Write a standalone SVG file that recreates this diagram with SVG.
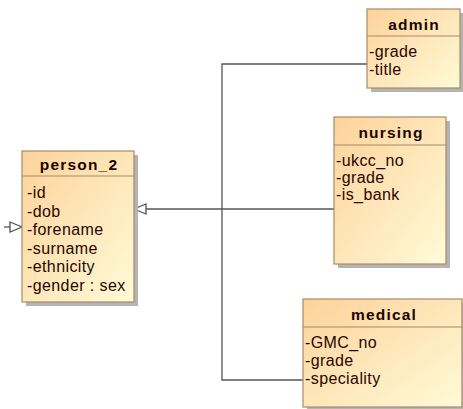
<svg xmlns="http://www.w3.org/2000/svg" width="463" height="409" viewBox="0 0 463 409">
<defs>
<linearGradient id="g" x1="0" y1="0" x2="1" y2="1">
<stop offset="0" stop-color="#fdd29a"/>
<stop offset="1" stop-color="#fffbd8"/>
</linearGradient>
<marker id="tri" viewBox="0 0 14 12" refX="13" refY="6" markerWidth="14" markerHeight="12" markerUnits="userSpaceOnUse" orient="auto">
<path d="M1,1 L13,6 L1,11 Z" fill="#fff" stroke="#555" stroke-width="1.3"/>
</marker>
</defs>
<style>
.shadow{fill:#b4b4b4}
.box{fill:url(#g);stroke:#a88a66;stroke-width:1.2}
.div{stroke:#a88a66;stroke-width:1.2}
.title{font-family:"Liberation Sans",Arial,sans-serif;font-size:15.5px;font-weight:bold;fill:#1a0500;text-anchor:middle;letter-spacing:1.2px}
.attr{font-family:"Liberation Sans",Arial,sans-serif;font-size:16px;fill:#2a0500;letter-spacing:0.4px}
.conn{fill:none;stroke:#555;stroke-width:1.3}
</style>
<rect width="463" height="409" fill="#fff"/>
<g id="connectors">
<path class="conn" d="M367,64 H222 V380 H303"/>
<path class="conn" d="M334,209 H134" marker-end="url(#tri)"/>
<path class="conn" d="M4,227 H22" marker-end="url(#tri)"/>
</g>
<g id="person_2">
<rect class="shadow" x="26" y="155" width="112" height="151"/>
<rect class="box" x="22" y="151" width="112" height="151"/>
<line class="div" x1="22" y1="176" x2="134" y2="176"/>
<text class="title" x="79" y="170">person_2</text>
<text class="attr" x="27" y="198">-id</text>
<text class="attr" x="27" y="216.5">-dob</text>
<text class="attr" x="27" y="235">-forename</text>
<text class="attr" x="27" y="253.5">-surname</text>
<text class="attr" x="27" y="272">-ethnicity</text>
<text class="attr" x="27" y="290.5">-gender : sex</text>
</g>
<g id="admin">
<rect class="shadow" x="371" y="13" width="93" height="79"/>
<rect class="box" x="367" y="9" width="93" height="79"/>
<line class="div" x1="367" y1="36" x2="460" y2="36"/>
<text class="title" x="414" y="30">admin</text>
<text class="attr" x="369" y="57">-grade</text>
<text class="attr" x="369" y="75">-title</text>
</g>
<g id="nursing">
<rect class="shadow" x="338" y="121" width="112" height="147"/>
<rect class="box" x="334" y="117" width="112" height="147"/>
<line class="div" x1="334" y1="145" x2="446" y2="145"/>
<text class="title" x="391" y="138">nursing</text>
<text class="attr" x="336" y="166">-ukcc_no</text>
<text class="attr" x="336" y="183">-grade</text>
<text class="attr" x="336" y="200">-is_bank</text>
</g>
<g id="medical">
<rect class="shadow" x="307" y="303" width="159" height="108"/>
<rect class="box" x="303" y="299" width="159" height="108"/>
<line class="div" x1="303" y1="327" x2="462" y2="327"/>
<text class="title" x="384" y="320">medical</text>
<text class="attr" x="305" y="348">-GMC_no</text>
<text class="attr" x="305" y="366">-grade</text>
<text class="attr" x="305" y="384">-speciality</text>
</g>
</svg>
